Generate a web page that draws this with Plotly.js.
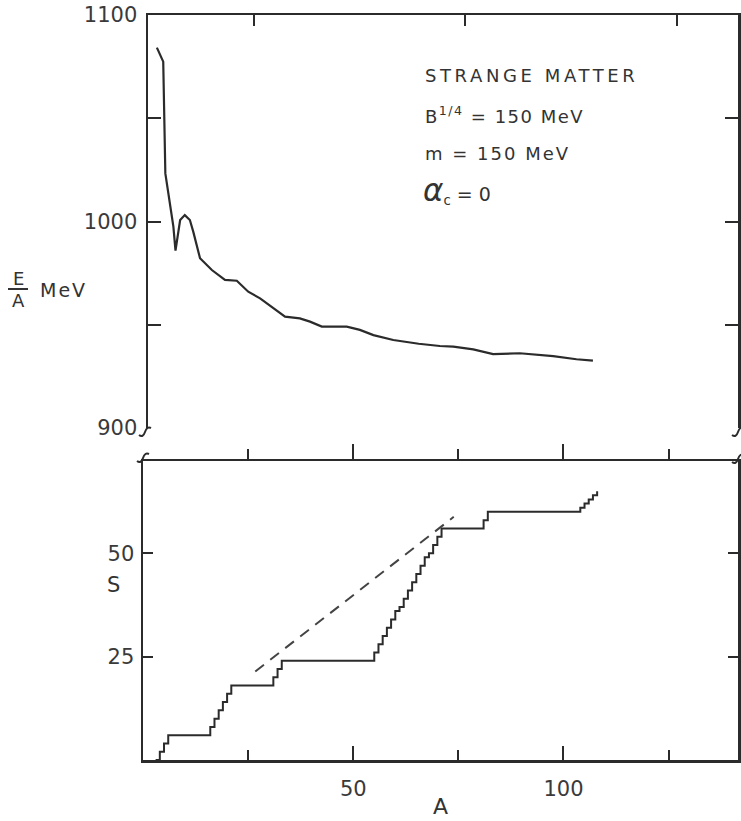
<!DOCTYPE html>
<html>
<head>
<meta charset="utf-8">
<script src="https://cdn.plot.ly/plotly-3.0.1.min.js"></script>
<style>html,body{margin:0;padding:0;background:#fff;}</style>
</head>
<body>
<div id="chart" style="width:741px;height:821px;"></div>
<script>
// ---- data ----
// upper panel: energy per baryon E/A (MeV) versus baryon number A
const topA  = [2.1, 3.6, 4.1, 6.0, 6.5, 7.6, 8.7, 9.9, 10.7, 12.3, 15.1, 18.2, 21.0, 23.7, 26.5, 29.6, 32.4, 35.9, 38.3, 41.1, 47.0, 50.1, 53.3, 58.0, 64.0, 69.0, 72.2, 76.9, 81.6, 87.9, 95.8, 101.3, 105.2];
const topEA = [1084.2, 1077.4, 1023.3, 997.5, 985.9, 1000.7, 1003.1, 1000.7, 995.1, 982.2, 976.5, 971.7, 971.3, 966.0, 962.8, 958.0, 953.9, 953.1, 951.5, 949.1, 949.1, 947.5, 945.0, 942.6, 940.8, 939.7, 939.4, 938.1, 935.8, 936.2, 934.8, 933.3, 932.6];
// lower panel: strangeness S versus A (staircase, value after each step)
const stepA = [3, 4, 5, 6, 16, 17, 18, 19, 20, 21, 31, 32, 33, 55, 56, 57, 58, 59, 60, 61, 62, 63, 64, 65, 66, 67, 68, 69, 70, 71, 81, 82, 104, 105, 106, 107, 108];
const stepS = [0, 2, 4, 6, 8, 10, 12, 14, 16, 18, 20, 22, 24, 26, 28, 30, 32, 34, 36, 37, 39, 41, 43, 45, 47, 49, 50, 52, 54, 56, 58, 60, 61, 62, 63, 64, 65];
// dashed reference line
const dashA = [26.7, 73.9];
const dashS = [21.4, 58.8];
// tick labels
const xTickVals = [50, 100];
const xTickText = ['50', '100'];
const xMinorVals = [25, 75, 125];
const sTickVals = [25, 50];
const sTickText = ['25', '50'];
const eTickVals = [900, 1000, 1100];
const eTickText = ['900', '1000', '1100'];
const eMinorVals = [950, 1050];

// ---- layout helpers ----
const W = 741, H = 821, ML = 143, MR = 3, MT = 15, MB = 61;
const PW = W - ML - MR, PH = H - MT - MB;
const px = x => (x - ML) / PW;
const py = y => (H - MB - y) / PH;
const INK = '#2b2b2b';
const FONT = 'DejaVu Sans';

const axisBase = {
  showline: true, linecolor: INK, linewidth: 2.5,
  tickcolor: INK, tickwidth: 2, showgrid: false, zeroline: false,
  tickfont: {family: FONT, size: 21, color: '#3a3a3a'}
};

const traces = [
  {x: topA, y: topEA, xaxis: 'x2', yaxis: 'y2', mode: 'lines',
   line: {color: INK, width: 2.2, shape: 'linear'}, hoverinfo: 'skip'},
  {x: stepA, y: stepS, xaxis: 'x', yaxis: 'y', mode: 'lines',
   line: {color: INK, width: 2, shape: 'hv'}, hoverinfo: 'skip'},
  {x: dashA, y: dashS, xaxis: 'x3', yaxis: 'y', mode: 'lines',
   line: {color: '#444', width: 2, dash: '11px,8px'}, hoverinfo: 'skip'}
];

const brk = (x0, y0) => {
  // small axis-break squiggle centred at pixel (x0,y0)
  const p = (dx, dy) => px(x0 + dx) + ',' + py(y0 + dy);
  return {type: 'path', xref: 'paper', yref: 'paper',
    path: 'M ' + p(-6, 4) + ' Q ' + p(-2, 7) + ' ' + p(0, 1) + ' Q ' + p(2, -5) + ' ' + p(6, -3),
    line: {color: INK, width: 2}};
};

const annFont = {family: FONT, size: 18, color: '#333'};

const layout = {
  width: W, height: H,
  margin: {l: ML, r: MR, t: MT, b: MB, pad: 0},
  paper_bgcolor: '#fff', plot_bgcolor: 'rgba(0,0,0,0)',
  showlegend: false,
  font: {family: FONT, size: 21, color: '#3a3a3a'},
  xaxis: Object.assign({}, axisBase, {
    domain: [0, 1], anchor: 'y', range: [0, 141.5],
    ticks: 'inside', ticklen: 14, tickmode: 'array', tickvals: xTickVals, ticktext: xTickText,
    minor: {tickmode: 'array', tickvals: xMinorVals, ticks: 'inside', ticklen: 10, tickwidth: 2, tickcolor: INK},
    ticklabelstandoff: 8
  }),
  xaxis3: Object.assign({}, axisBase, {
    overlaying: 'x', anchor: 'y', side: 'top', range: [0, 141.5],
    ticks: 'outside', ticklen: 15, tickmode: 'array', tickvals: xTickVals,
    minor: {tickmode: 'array', tickvals: xMinorVals, ticks: 'outside', ticklen: 10, tickwidth: 2, tickcolor: INK},
    showticklabels: false
  }),
  yaxis: Object.assign({}, axisBase, {
    domain: [0, py(461)], anchor: 'x', range: [0, 72.3],
    mirror: 'ticks', ticks: 'inside', ticklen: 10,
    tickmode: 'array', tickvals: sTickVals, ticktext: sTickText,
    ticklabelstandoff: 2
  }),
  xaxis2: Object.assign({}, axisBase, {
    domain: [px(148), 1], anchor: 'y2', side: 'top', range: [0, 139.5],
    ticks: 'inside', ticklen: 11, tickmode: 'array', tickvals: xMinorVals,
    showticklabels: false
  }),
  yaxis2: Object.assign({}, axisBase, {
    domain: [py(428), 1], anchor: 'x2', range: [900, 1100],
    mirror: 'ticks', ticks: 'inside', ticklen: 13,
    tickmode: 'array', tickvals: eTickVals, ticktext: eTickText,
    minor: {tickmode: 'array', tickvals: eMinorVals, ticks: 'inside', ticklen: 13, tickwidth: 2, tickcolor: INK},
    ticklabelstandoff: 4
  }),
  annotations: [
    {xref: 'paper', yref: 'paper', x: px(423), y: py(75), xanchor: 'left', yanchor: 'middle', showarrow: false,
     text: '<span style="letter-spacing:3.6px">STRANGE MATTER</span>', font: annFont},
    {xref: 'paper', yref: 'paper', x: px(423), y: py(115), xanchor: 'left', yanchor: 'middle', showarrow: false,
     text: '<span style="letter-spacing:1.5px">B<sup>1/4</sup> = 150 MeV</span>', font: annFont},
    {xref: 'paper', yref: 'paper', x: px(423), y: py(153), xanchor: 'left', yanchor: 'middle', showarrow: false,
     text: '<span style="letter-spacing:2px">m = 150 MeV</span>', font: annFont},
    {xref: 'paper', yref: 'paper', x: px(421), y: py(190), xanchor: 'left', yanchor: 'middle', showarrow: false,
     text: '<span style="font-size:31px;font-style:italic">α</span><sub>c</sub> = 0', font: {family: FONT, size: 19, color: '#333'}},
    {xref: 'paper', yref: 'paper', x: px(18), y: py(279), xanchor: 'center', yanchor: 'middle', showarrow: false,
     text: 'E', font: {family: FONT, size: 18, color: '#333'}},
    {xref: 'paper', yref: 'paper', x: px(18), y: py(300), xanchor: 'center', yanchor: 'middle', showarrow: false,
     text: 'A', font: {family: FONT, size: 18, color: '#333'}},
    {xref: 'paper', yref: 'paper', x: px(38), y: py(290), xanchor: 'left', yanchor: 'middle', showarrow: false,
     text: '<span style="letter-spacing:2px">MeV</span>', font: {family: FONT, size: 19, color: '#333'}},
    {xref: 'paper', yref: 'paper', x: px(113), y: py(585), xanchor: 'center', yanchor: 'middle', showarrow: false,
     text: 'S', font: {family: FONT, size: 21, color: '#333'}},
    {xref: 'paper', yref: 'paper', x: px(440), y: py(806), xanchor: 'center', yanchor: 'middle', showarrow: false,
     text: 'A', font: {family: FONT, size: 22, color: '#333'}}
  ],
  shapes: [
    {type: 'line', xref: 'paper', yref: 'paper', x0: px(8), x1: px(28), y0: py(289), y1: py(289), line: {color: '#333', width: 2}},
    brk(145, 431), brk(143, 457), brk(738, 431), brk(738, 458)
  ]
};

Plotly.newPlot('chart', traces, layout, {displayModeBar: false, staticPlot: true});
</script>
</body>
</html>
